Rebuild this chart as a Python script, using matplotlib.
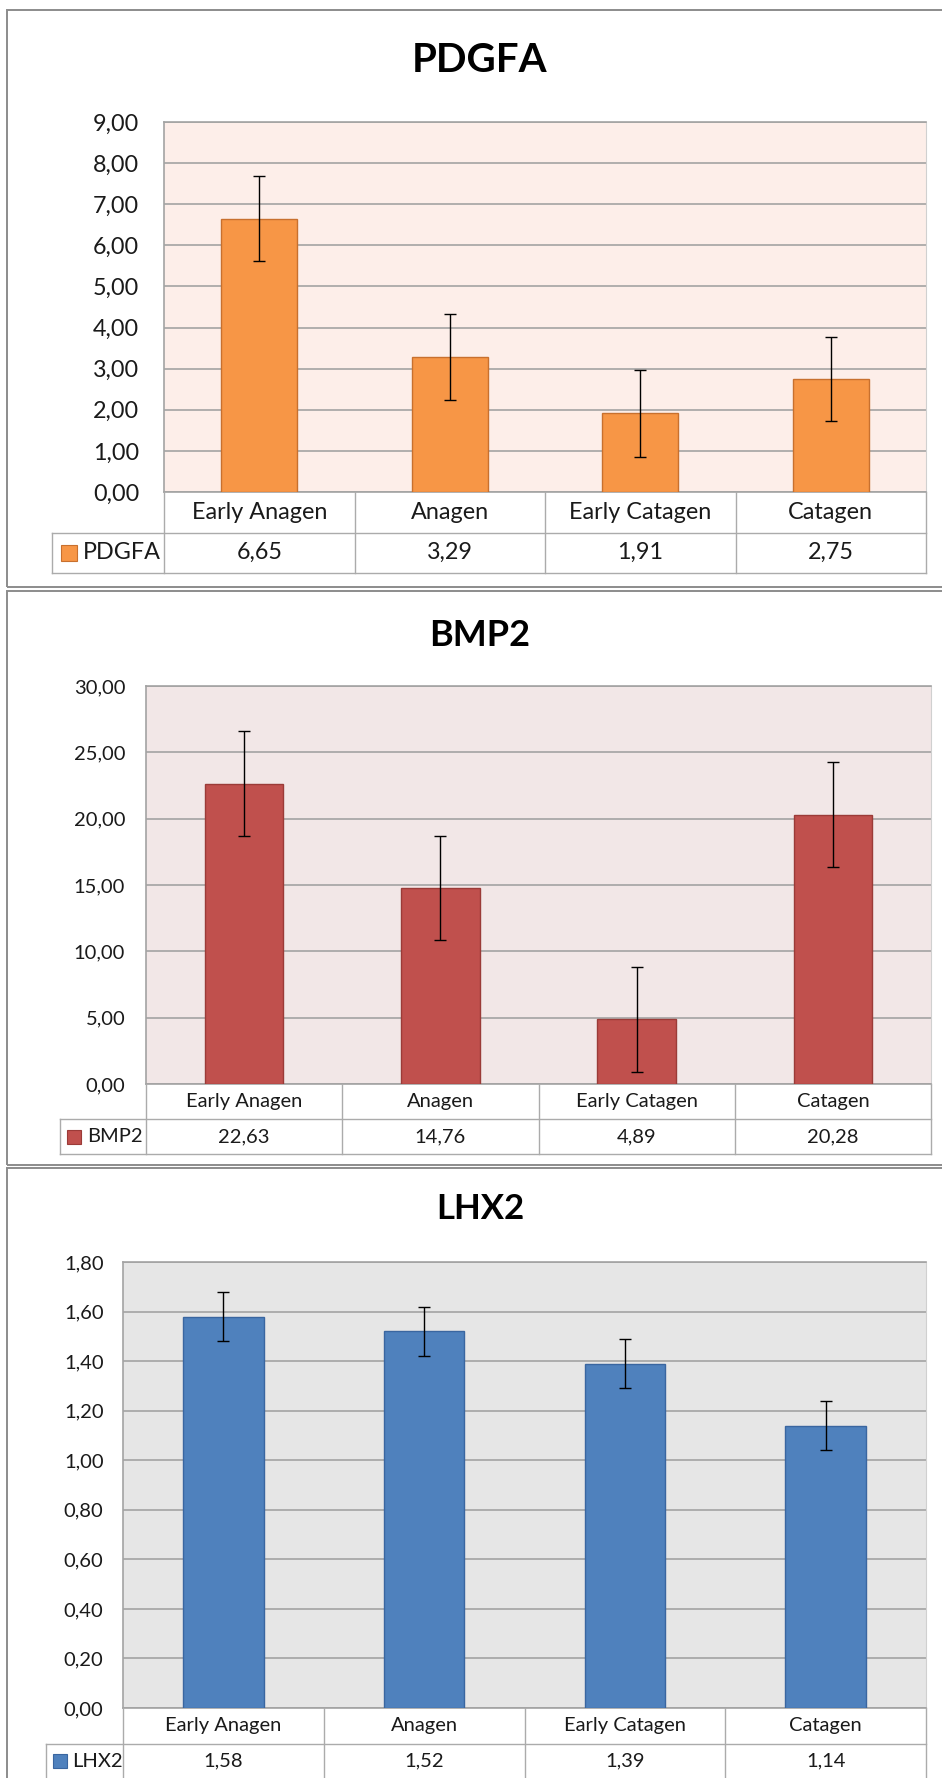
import numpy as np
import matplotlib
matplotlib.use('Agg')
import matplotlib.pyplot as plt
from matplotlib.patches import Rectangle

# data (relative expression per hair cycle stage)
stages = ['Early Anagen', 'Anagen', 'Early Catagen', 'Catagen']

pdgfa = [6.65, 3.29, 1.91, 2.75]
pdgfa_err = [1.04, 1.05, 1.05, 1.03]

bmp2 = [22.63, 14.76, 4.89, 20.28]
bmp2_err = [3.96, 3.94, 3.95, 3.96]

lhx2 = [1.58, 1.52, 1.39, 1.14]
lhx2_err = [0.10, 0.10, 0.10, 0.10]

W, H = 942, 1778
plt.rcParams['font.family'] = ['Lato', 'DejaVu Sans']
TXT = '#1a1a1a'
GRID = '#A3A3A3'
TBL = '#ABABAB'

fig = plt.figure(figsize=(W / 100, H / 100), dpi=100)


def rect(l, t, r, b):
    # pixel box (from top-left) -> figure fraction
    return [l / W, 1 - b / H, (r - l) / W, (b - t) / H]


def comma(v):
    return f'{v:.2f}'.replace('.', ',')


def panel(gene, vals, errs, ymax, ystep, color, edge, bg, lay, fs, tfs, pad, ms):
    pl, pr, pt, pb, hb, vb, leg, sqx, txx, ty, ft, fb = lay

    # outer chart frame (right side runs off the picture)
    fig.add_artist(Rectangle((7 / W, 1 - fb / H), 1.0, (fb - ft) / H,
                             transform=fig.transFigure, fill=False,
                             edgecolor='#8C8C8C', lw=1.4))
    fig.text(480 / W, 1 - ty / H, gene, ha='center', va='center',
             fontsize=tfs, weight='bold', color='black')

    ax = fig.add_axes(rect(pl, pt, pr, pb))
    x = np.arange(len(vals))
    ax.set_facecolor(bg)
    ax.bar(x, vals, width=0.4, color=color, edgecolor=edge, lw=1.0, zorder=3,
           yerr=errs, capsize=4,
           error_kw=dict(ecolor='black', elinewidth=1.0, capthick=1.0, zorder=4))
    ax.set_xlim(-0.5, len(vals) - 0.5)
    ax.set_ylim(0, ymax)
    ticks = np.arange(0, ymax + ystep / 2, ystep)
    ax.set_yticks(ticks)
    ax.set_yticklabels([comma(t) for t in ticks], fontsize=fs, color=TXT)
    ax.set_xticks([])
    ax.tick_params(length=0, pad=pad)
    ax.yaxis.grid(True, color=GRID, lw=1.2, zorder=1)
    ax.set_axisbelow(True)
    for s in ['left', 'top', 'bottom']:
        ax.spines[s].set_color(GRID)
        ax.spines[s].set_linewidth(1.2)
    ax.spines['right'].set_color('#D0D0D0')

    # data table under the plot
    tax = fig.add_axes(rect(pl, pb, pr, vb))
    tax.set_xlim(-0.5, len(vals) - 0.5)
    tax.set_ylim(2, 0)
    tax.axis('off')
    span = len(vals) / (pr - pl)
    xleg = -0.5 + (leg - pl) * span
    for b in np.arange(-0.5, len(vals), 1.0):
        tax.plot([b, b], [0, 2], color=TBL, lw=1.0, clip_on=False)
    tax.plot([xleg, len(vals) - 0.5], [1, 1], color=TBL, lw=1.0, clip_on=False)
    tax.plot([xleg, len(vals) - 0.5], [2, 2], color=TBL, lw=1.0, clip_on=False)
    tax.plot([xleg, xleg], [1, 2], color=TBL, lw=1.0, clip_on=False)
    for i, (st, v) in enumerate(zip(stages, vals)):
        tax.text(i, 0.5, st, ha='center', va='center', fontsize=fs, color=TXT)
        tax.text(i, 1.5, comma(v), ha='center', va='center', fontsize=fs, color=TXT)
    tax.plot(-0.5 + (sqx - pl) * span, 1.5, marker='s', ms=ms, color=color,
             mec=edge, mew=0.8, clip_on=False)
    tax.text(-0.5 + (txx - pl) * span, 1.5, gene, ha='left', va='center',
             fontsize=fs, color=TXT)
    return ax


panel('PDGFA', pdgfa, pdgfa_err, 9, 1, '#F79646', '#C8702E', '#FDEEE9',
      (164, 926, 122, 492, 533, 573, 52, 69, 83, 61, 10, 587),
      fs=16.8, tfs=29, pad=18, ms=11.5)
panel('BMP2', bmp2, bmp2_err, 30, 5, '#C0504D', '#9B3B38', '#F2E7E7',
      (146, 931, 686, 1084, 1119, 1154, 60, 74, 87, 635, 591, 1165),
      fs=14.5, tfs=26, pad=15, ms=9.5)
panel('LHX2', lhx2, lhx2_err, 1.8, 0.2, '#4F81BD', '#3A66A0', '#E6E6E6',
      (123, 926, 1262, 1708, 1743, 1779, 46, 60, 72, 1209, 1168, 1800),
      fs=14.5, tfs=25, pad=14, ms=9.5)

fig.savefig('out.png', dpi=100, facecolor='white')
